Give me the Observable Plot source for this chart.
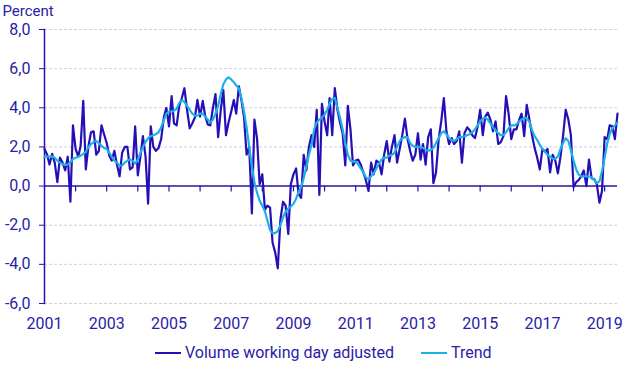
<!DOCTYPE html>
<html><head><meta charset="utf-8">
<script src="https://cdn.jsdelivr.net/npm/d3@7"></script>
<script src="https://cdn.jsdelivr.net/npm/@observablehq/plot@0.6"></script>
<style>
body{margin:0;background:#fff;font-family:Roboto,sans-serif;}
#legend{position:relative;width:642px;height:37px;font-size:16px;color:#2a22a6;}
.item{position:absolute;top:4px;display:flex;align-items:center;line-height:18px;white-space:nowrap;}
.sw{width:26px;height:0;border-top:2.5px solid;margin-right:4px;}
</style></head><body>
<div id="chart"></div>
<div id="legend"></div>
<script>
const seriesNames = ["Volume working day adjusted", "Trend"];
const startYear = 2001;
const yTicks = [-6, -4, -2, 0, 2, 4, 6, 8];
const xLabelYears = [2001, 2003, 2005, 2007, 2009, 2011, 2013, 2015, 2017, 2019];
const xTickYears = [2002,2003,2004,2005,2006,2007,2008,2009,2010,2011,2012,2013,2014,2015,2016,2017,2018,2019];

const volume = [
  1.9, 1.6, 1.1, 1.65, 1.2, 0.2, 1.45, 1.2, 0.8, 1.5, -0.8, 3.1,
  1.9, 1.5, 2.05, 4.35, 0.85, 2.05, 2.75, 2.8, 1.6, 1.8, 3.1, 2.65,
  2.2, 1.55, 1.3, 1.8, 1.1, 0.5, 1.7, 2.0, 2.0, 0.85, 0.95, 3.05,
  0.55, 1.5, 2.55, 1.5, -0.9, 3.05, 2.0, 1.8, 1.95, 2.4, 3.5, 4.0,
  3.05, 4.6, 3.2, 3.1, 4.1, 4.5, 5.0, 3.9, 2.95, 3.2, 3.5, 4.4,
  3.55, 4.35, 3.6, 3.15, 3.1, 4.0, 4.7, 2.5, 3.9, 4.9, 2.6, 3.25,
  3.8, 4.4, 3.7, 5.1, 4.4, 3.5, 1.6, 2.0, -1.4, 3.4, 2.4, 0.1,
  0.6, -1.2, -1.0, -1.1, -2.9, -3.4, -4.2, -1.7, -0.8, -1.0, -2.45, 0.1,
  0.6, 0.9, -0.4, -0.6, 1.6, 0.8, 2.0, 2.6, 2.0, 3.9, -0.45, 4.2,
  3.3, 2.6, 4.5, 2.6, 5.0, 3.9, 3.25, 2.7, 1.05, 4.1, 2.9, 1.05,
  1.3, 1.35, 1.1, 0.7, 0.3, -0.25, 1.2, 0.6, 1.3, 1.2, 0.6, 1.6,
  2.3, 1.25, 2.0, 2.6, 1.2, 1.9, 2.6, 3.45, 2.4, 1.8, 1.3, 1.6,
  2.7, 1.35, 2.15, 1.1, 2.5, 2.9, 0.15, 0.7, 2.4, 3.3, 4.5, 2.8,
  2.15, 2.45, 2.15, 2.3, 2.8, 1.2, 2.7, 3.0, 2.85, 2.6, 2.45, 3.0,
  3.9, 2.6, 3.55, 3.75, 3.4, 2.8, 3.3, 2.15, 2.25, 2.55, 4.6, 3.7,
  2.4, 2.9, 2.9, 3.35, 3.7, 2.55, 4.15, 3.4, 2.6, 1.95, 1.45, 0.85,
  1.9, 1.75, 1.9, 0.7, 1.6, 1.3, 0.65, 1.5, 2.6, 3.9, 3.4, 2.6,
  -0.05, 0.2, 0.3, 0.5, 0.8, 0.0, 1.35, 0.4, 0.35, 0.1, -0.85, -0.25,
  2.5, 2.4, 3.1, 3.05, 2.4, 3.7
];

const trend = [
  1.5, 1.5, 1.5, 1.52, 1.45, 1.3, 1.2, 1.12, 1.07, 1.1, 1.22, 1.38,
  1.45, 1.5, 1.55, 1.65, 1.75, 2.0, 2.15, 2.25, 2.3, 2.2, 2.05, 1.95,
  1.9, 1.7, 1.5, 1.3, 1.2, 1.05, 1.05, 1.2, 1.3, 1.35, 1.3, 1.15,
  1.35, 1.7, 2.0, 2.25, 2.45, 2.55, 2.6, 2.65, 2.75, 3.0, 3.35, 3.7,
  3.8, 3.8, 3.85, 3.95, 4.25, 4.4, 4.3, 4.1, 3.9, 3.7, 3.6, 3.6,
  3.7, 3.7, 3.55, 3.4, 3.25, 3.4, 3.7, 4.1, 4.7, 5.2, 5.45, 5.55,
  5.45, 5.3, 5.15, 5.0, 4.5, 3.8, 3.0, 2.0, 1.0, 0.2, -0.35, -0.75,
  -1.0, -1.3, -1.75, -2.25, -2.4, -2.4, -2.3, -2.0, -1.6, -1.3, -1.15, -1.05,
  -0.9, -0.65, -0.3, -0.05, 0.4, 1.0, 1.6, 2.1, 2.9, 3.25, 3.4, 3.5,
  3.65, 3.9, 4.2, 4.45, 4.5, 4.0, 3.5, 2.9, 2.2, 1.6, 1.3, 1.25,
  1.25, 1.1, 0.9, 0.7, 0.45, 0.35, 0.5, 0.65, 0.9, 1.15, 1.35, 1.45,
  1.45, 1.55, 1.6, 1.7, 2.0, 2.3, 2.45, 2.5, 2.5, 2.2, 2.05, 2.0,
  2.0, 2.0, 1.95, 1.85, 1.8, 1.85, 1.95, 2.2, 2.45, 2.7, 2.8, 2.65,
  2.45, 2.35, 2.3, 2.4, 2.5, 2.5, 2.55, 2.6, 2.65, 2.75, 2.9, 3.1,
  3.3, 3.45, 3.5, 3.4, 3.2, 3.0, 2.85, 2.7, 2.6, 2.6, 2.75, 2.95,
  3.1, 3.1, 3.15, 3.3, 3.4, 3.5, 3.45, 3.3, 2.85, 2.55, 2.35, 2.1,
  1.9, 1.75, 1.6, 1.5, 1.4, 1.4, 1.5, 1.9, 2.2, 2.45, 2.3, 1.85,
  1.3, 0.85, 0.6, 0.5, 0.5, 0.5, 0.5, 0.45, 0.3, 0.15, 0.25, 0.75,
  1.45, 2.2, 2.65, 2.95, 3.1, 3.25
];

const textColor = "#2a22a6";
const axisColor = "#2214aa";
const volColor = "#2410b4";
const trendColor = "#1cb0e8";
const gridColor = "#cdcdee";

const months = volume.map((_, i) => new Date(Date.UTC(startYear, i, 1)));
const data = months.map((date, i) => ({date, volume: volume[i], trend: trend[i]}));
const labelDates = xLabelYears.map(y => new Date(Date.UTC(y, 0, 1)));
const tickDates = xTickYears.map(y => new Date(Date.UTC(y, 0, 1)));

const chart = Plot.plot({
  width: 642,
  height: 340,
  marginLeft: 44,
  marginRight: 25,
  marginTop: 29,
  marginBottom: 37,
  style: {fontFamily: "Roboto, sans-serif", fontSize: "16px", color: textColor, background: "#fff"},
  x: {type: "utc", domain: [months[0], months[months.length - 1]]},
  y: {domain: [-6, 8]},
  marks: [
    Plot.gridY(yTicks.filter(d => d !== 0), {stroke: gridColor, strokeOpacity: 1, strokeDasharray: "3,2"}),
    Plot.axisY(yTicks, {tickSize: 5, tickPadding: 9, fontSize: 16, tickFormat: d => d.toFixed(1).replace(".", ","), label: null, stroke: axisColor}),
    Plot.axisX(labelDates, {tickSize: 0, tickPadding: 14, fontSize: 16, tickFormat: d => String(d.getUTCFullYear()), label: null}),
    Plot.frame({anchor: "left", stroke: axisColor, strokeWidth: 1.5}),
    Plot.ruleY([0], {stroke: axisColor, strokeWidth: 1.5}),
    Plot.ruleX(tickDates, {x: d => d, y1: 0, y2: -0.3, stroke: axisColor, strokeWidth: 1.2}),
    Plot.lineY(data, {x: "date", y: "volume", stroke: volColor, strokeWidth: 2.2}),
    Plot.lineY(data, {x: "date", y: "trend", stroke: trendColor, strokeWidth: 2.2}),
    Plot.text(["Percent"], {frameAnchor: "top-left", lineAnchor: "middle", dx: -42, dy: -18, textAnchor: "start", fill: textColor, fontSize: 15})
  ]
});
document.getElementById("chart").appendChild(chart);

const legend = document.getElementById("legend");
const legendItems = [
  {name: seriesNames[0], color: volColor, left: 155},
  {name: seriesNames[1], color: trendColor, left: 421}
];
for (const it of legendItems) {
  const div = document.createElement("div");
  div.className = "item";
  div.style.left = it.left + "px";
  const sw = document.createElement("span");
  sw.className = "sw";
  sw.style.borderTopColor = it.color;
  const tx = document.createElement("span");
  tx.textContent = it.name;
  div.appendChild(sw);
  div.appendChild(tx);
  legend.appendChild(div);
}
</script>
</body></html>
